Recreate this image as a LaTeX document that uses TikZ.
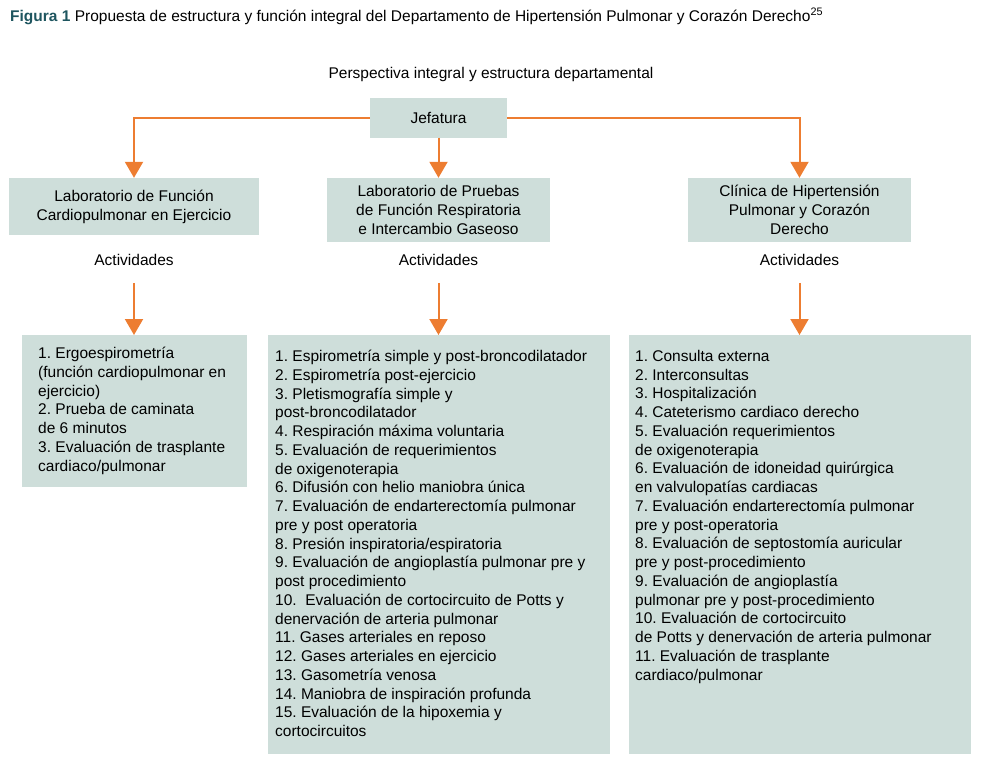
\documentclass[tikz,border=0pt]{standalone}
\usepackage{fontspec}
\setmainfont{Liberation Sans}
\frenchspacing
\usetikzlibrary{arrows.meta}
\definecolor{boxfill}{RGB}{206,222,218}
\definecolor{linkorange}{RGB}{237,125,49}
\definecolor{figteal}{RGB}{30,85,95}
\tikzset{
  unitbox/.style={fill=boxfill, align=center, inner sep=0pt, font=\fontsize{15.5}{19}\selectfont},
  listbox/.style={fill=boxfill, anchor=north west, inner sep=0pt},
  listtext/.style={anchor=north west, align=left, inner sep=0pt, font=\fontsize{15.5}{18.75}\selectfont},
  plaintext/.style={inner sep=0pt, font=\fontsize{15.5}{17}\selectfont},
  link/.style={draw=linkorange, line width=2pt, -{Triangle[width=18pt,length=16pt]}}
}
\begin{document}
\begin{tikzpicture}[x=1pt, y=-1pt]
	\useasboundingbox (0,0) rectangle (983,771);
	% caption and heading
	\node[anchor=base west, inner sep=0pt, font=\fontsize{15.5}{18}\selectfont] (caption) at (10,21)
		{\textcolor{figteal}{\bfseries Figura 1} Propuesta de estructura y función integral del Departamento de Hipertensión Pulmonar y Corazón Derecho\textsuperscript{25}};
	\node[plaintext] (persp) at (491,74) {Perspectiva integral y estructura departamental};
	% units
	\node[unitbox, minimum width=137pt, minimum height=40pt] (jefatura) at (438.5,117.5) {Jefatura};
	\node[unitbox, minimum width=250pt, minimum height=57pt] (labcp) at (134,206.5) {Laboratorio de Función\\Cardiopulmonar en Ejercicio};
	\node[unitbox, minimum width=223pt, minimum height=64pt] (labfr) at (438.5,210) {Laboratorio de Pruebas\\de Función Respiratoria\\e Intercambio Gaseoso};
	\node[unitbox, minimum width=223pt, minimum height=64pt] (clinhp) at (799.5,210) {Clínica de Hipertensión\\Pulmonar y Corazón\\Derecho};
	\draw[link] (jefatura.west) -| (labcp.north);
	\draw[link] (jefatura.south) -- (labfr.north);
	\draw[link] (jefatura.east) -| (clinhp.north);
	% activities
	\foreach \col/\name in {134/actcp, 438.5/actfr, 799.5/acthp}{
		\node[plaintext] (\name) at (\col,260) {Actividades};
	}
	\node[listbox, minimum width=225pt, minimum height=152pt] (listcp) at (22,335) {};
	\node[listbox, minimum width=342pt, minimum height=419pt] (listfr) at (268,335) {};
	\node[listbox, minimum width=342pt, minimum height=419pt] (listhp) at (629,335) {};
	\foreach \act/\list in {actcp/listcp, actfr/listfr, acthp/listhp}{
		\draw[link, shorten <=17pt] (\act.south) -- (\act.south |- \list.north);
	}
	\node[listtext] (itemscp) at ([shift={(16,12)}]listcp.north west)
		{1. Ergoespirometría\\(función cardiopulmonar en\\ejercicio)\\2. Prueba de caminata\\de 6 minutos\\3. Evaluación de trasplante\\cardiaco/pulmonar};
	\node[listtext] (itemsfr) at ([shift={(7,15)}]listfr.north west)
		{1. Espirometría simple y post-broncodilatador\\
		2. Espirometría post-ejercicio\\
		3. Pletismografía simple y\\
		post-broncodilatador\\
		4. Respiración máxima voluntaria\\
		5. Evaluación de requerimientos\\
		de oxigenoterapia\\
		6. Difusión con helio maniobra única\\
		7. Evaluación de endarterectomía pulmonar\\
		pre y post operatoria\\
		8. Presión inspiratoria/espiratoria\\
		9. Evaluación de angioplastía pulmonar pre y\\
		post procedimiento\\
		10.\ \ Evaluación de cortocircuito de Potts y\\
		denervación de arteria pulmonar\\
		11. Gases arteriales en reposo\\
		12. Gases arteriales en ejercicio\\
		13. Gasometría venosa\\
		14. Maniobra de inspiración profunda\\
		15. Evaluación de la hipoxemia y\\
		cortocircuitos};
	\node[listtext] (itemshp) at ([shift={(6,15)}]listhp.north west)
		{1. Consulta externa\\
		2. Interconsultas\\
		3. Hospitalización\\
		4. Cateterismo cardiaco derecho\\
		5. Evaluación requerimientos\\
		de oxigenoterapia\\
		6. Evaluación de idoneidad quirúrgica\\
		en valvulopatías cardiacas\\
		7. Evaluación endarterectomía pulmonar\\
		pre y post-operatoria\\
		8. Evaluación de septostomía auricular\\
		pre y post-procedimiento\\
		9. Evaluación de angioplastía\\
		pulmonar pre y post-procedimiento\\
		10. Evaluación de cortocircuito\\
		de Potts y denervación de arteria pulmonar\\
		11. Evaluación de trasplante\\
		cardiaco/pulmonar};
\end{tikzpicture}
\end{document}
